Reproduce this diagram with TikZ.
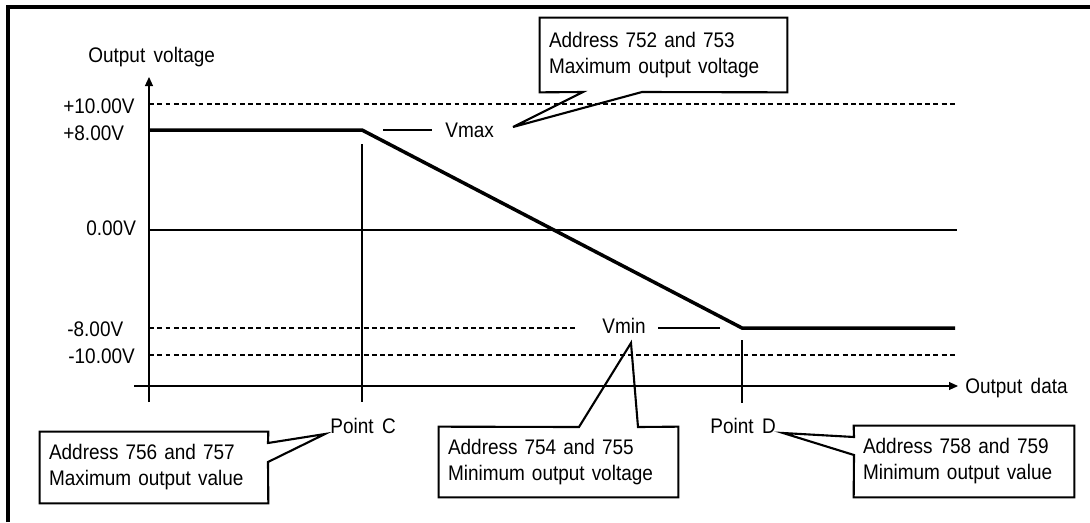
\documentclass[tikz,border=0pt]{standalone}
\usepackage{fontspec}
\setmainfont{Liberation Sans}[FakeStretch=0.9, WordSpace=1.6]
\usetikzlibrary{arrows.meta, calc}
\definecolor{inkcol}{RGB}{0,0,0}
\tikzset{
  axisline/.style={inkcol, line width=0.6pt},
  gridline/.style={inkcol, line width=0.6pt, dash pattern=on 2.8pt off 1.9pt},
  curveline/.style={inkcol, line width=2pt, line join=miter},
  calloutbox/.style={inner xsep=0.18cm, inner ysep=0pt, align=left, anchor=center},
  calloutline/.style={inkcol, line width=1.2pt, line join=miter},
  volt/.style={anchor=base west, inner sep=0pt}
}

\begin{document}
\begin{tikzpicture}[
    x=0.02cm, y=-0.02cm,
    >={Triangle[length=1.8mm, width=1.6mm]},
    font=\fontsize{12}{14.8}\selectfont
  ]
  \useasboundingbox (0,0) rectangle (1090,522);

  % --- frame ----------------------------------------------------------------
  \draw[inkcol, line width=2.3pt] (8,522) -- (8,7) -- (1090,7);

  % --- coordinates ----------------------------------------------------------
  \coordinate (Origin) at (149,386);
  \coordinate (PtC) at (362,130);
  \coordinate (PtD) at (742,328);
  \coordinate (VmaxTip) at (513,127);
  \coordinate (VminTip) at (631,343);
  \coordinate (CTip) at (325,434);
  \coordinate (DTip) at (783,433);

  % --- reference levels -----------------------------------------------------
  \draw[gridline] (149,104) -- (958,104);
  \draw[gridline] (149,328) -- (575,328);
  \draw[gridline] (149,355) -- (958,355);
  \draw[axisline] (149,230) -- (957,230);

  % --- axes -----------------------------------------------------------------
  \draw[axisline, ->] (149,402) -- (149,77);
  \draw[axisline, ->] (134,386) -- (958,386);
  \node[volt] (ylabel) at (88,62) {Output voltage};
  \node[volt] (xlabel) at (965,393) {Output data};

  % --- voltage labels -------------------------------------------------------
  \node[volt] (p10) at (63,113) {+10.00V};
  \node[volt] (p8) at (63,140) {+8.00V};
  \node[volt] (zero) at (86,235) {0.00V};
  \node[volt] (m8) at (67,336) {-8.00V};
  \node[volt] (m10) at (68,363) {-10.00V};

  % --- output characteristic ------------------------------------------------
  \draw[axisline] (362,144) -- (362,402);
  \draw[axisline] (742,340) -- (742,403);
  \draw[curveline] (149,130) -- (PtC) -- (PtD) -- (955,328);

  % --- Vmax / Vmin marks ----------------------------------------------------
  \draw[axisline] (383,130) -- (432,130);
  \node[volt] (vmax) at (445,137) {Vmax};
  \draw[axisline] (658,328) -- (720,328);
  \node[volt] (vmin) at (602,333) {Vmin};
  \node[volt] (ptc) at (330,433) {Point C};
  \node[volt] (ptd) at (710,433) {Point D};

  % --- callouts -------------------------------------------------------------
  \node[calloutbox, text width=4.58cm, minimum height=1.48cm] (b752) at (663.5,55)
    {Address 752 and 753\\Maximum output voltage};
  \draw[calloutline] (b752.south west) -- (b752.north west) -- (b752.north east)
    -- (b752.south east) -- (642,92) -- (VmaxTip) -- (583,92) -- cycle;

  \node[calloutbox, text width=4.20cm, minimum height=1.42cm] (b756) at (154,467.5)
    {Address 756 and 757\\Maximum output value};
  \draw[calloutline] (b756.north west) -- (b756.north east) -- (268,443)
    -- (CTip) -- (268,462) -- (b756.south east) -- (b756.south west) -- cycle;

  \node[calloutbox, text width=4.42cm, minimum height=1.40cm] (b754) at (558.5,462)
    {Address 754 and 755\\Minimum output voltage};
  \draw[calloutline] (b754.north west) -- (579,427) -- (VminTip) -- (638,427)
    -- (b754.north east) -- (b754.south east) -- (b754.south west) -- cycle;

  \node[calloutbox, text width=4.04cm, minimum height=1.42cm] (b758) at (964,461.5)
    {Address 758 and 759\\Minimum output value};
  \draw[calloutline] (b758.north west) -- (b758.north east) -- (b758.south east)
    -- (b758.south west) -- (854,455) -- (DTip) -- (854,437) -- cycle;

\end{tikzpicture}
\end{document}
